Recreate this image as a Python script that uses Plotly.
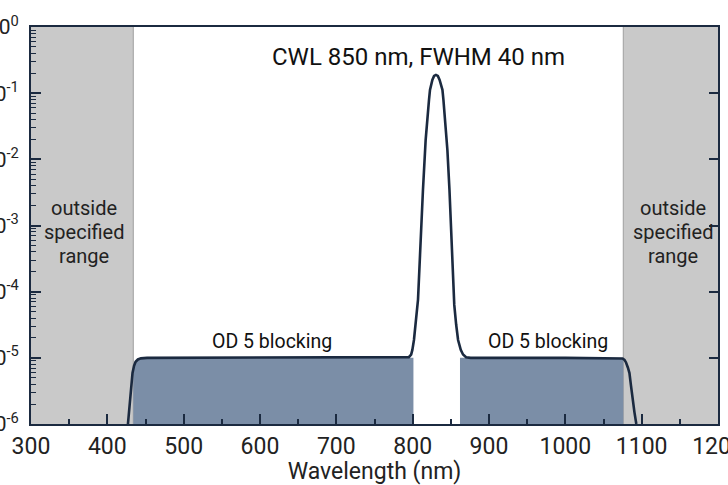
import numpy as np
import plotly.graph_objects as go

# ---- data ----
wavelength_nm = [427, 429, 431, 433, 435, 437, 440, 444, 452, 600, 790, 795, 798,
                 799.6, 801.7, 804, 807, 813.5, 816.2, 817, 821.4, 822.7, 825.8,
                 828, 830.5, 833, 835.3, 839, 840.3, 844.6, 845.5, 848.2, 854.5,
                 857, 859.5, 863, 866, 870, 876, 1000, 1072, 1075, 1077.5, 1079.5,
                 1082, 1084, 1086, 1088, 1090.5, 1093]
log10_transmission = [-6.0, -5.75, -5.45, -5.23, -5.12, -5.06, -5.025, -5.008, -5.0,
                      -5.0, -5.0, -4.99, -4.95, -4.88, -4.73, -4.43, -4.12, -2.46,
                      -1.86, -1.71, -1.10, -0.95, -0.80, -0.74, -0.725, -0.74, -0.80,
                      -0.95, -1.10, -1.71, -1.86, -2.46, -4.2, -4.5, -4.73, -4.88,
                      -4.95, -4.99, -5.0, -5.0, -5.0, -5.01, -5.03, -5.07, -5.15,
                      -5.23, -5.42, -5.63, -5.82, -6.0]

specified_range = [434, 1076]          # nm, outside of it is shaded grey
blocking_bands = [[434, 801], [862, 1076]]
od_level = 1e-5                        # OD 5 blocking level

x_ticks = [300, 400, 500, 600, 700, 800, 900, 1000, 1100, 1200]
x_tick_labels = ["300", "400", "500", "600", "700", "800", "900", "1000", "1100", "1200"]
y_exponents = [0, -1, -2, -3, -4, -5, -6]
y_tick_labels = ["10<sup>%d</sup>" % e for e in y_exponents]

title_text = "CWL 850 nm, FWHM 40 nm"
outside_lines = ["outside", "specified", "range"]
blocking_text = "OD 5 blocking"

# ---- derived ----
wl = np.array(wavelength_nm, dtype=float)
lt = np.array(log10_transmission, dtype=float)
T = 10 ** lt

LINE = "#1b2a40"
FILL = "#7b8ea7"
GREY = "#c9c9c9"
FONT = "Roboto"

fig = go.Figure()

# blocking-band fills (under the curve, capped at OD level)
for lo, hi in blocking_bands:
    inner = (wl > lo) & (wl < hi)
    xs = np.concatenate([[lo], wl[inner], [hi]])
    ys = 10 ** np.interp(xs, wl, lt)
    ys = np.minimum(ys, od_level)
    px = np.concatenate([[lo], xs, [hi]])
    py = np.concatenate([[1e-6], ys, [1e-6]])
    fig.add_trace(go.Scatter(x=px, y=py, mode="lines", fill="toself",
                             fillcolor=FILL, line=dict(width=0),
                             hoverinfo="skip", showlegend=False))

fig.add_trace(go.Scatter(x=wl, y=T, mode="lines",
                         line=dict(color=LINE, width=2.6),
                         showlegend=False))

# invisible trace for right-hand tick axis
fig.add_trace(go.Scatter(x=[300], y=[1e-3], yaxis="y2", mode="markers",
                         marker=dict(opacity=0), showlegend=False, hoverinfo="skip"))

# grey "outside specified range" zones
for x0, x1 in [(300, specified_range[0]), (specified_range[1], 1200)]:
    fig.add_shape(type="rect", xref="x", yref="paper", x0=x0, x1=x1, y0=0, y1=1,
                  fillcolor=GREY, line=dict(width=0), layer="below")
for xe in specified_range:
    fig.add_shape(type="line", xref="x", yref="paper", x0=xe, x1=xe, y0=0, y1=1,
                  line=dict(color="#a9a9a9", width=1.2), layer="below")

# annotations
fig.add_annotation(x=807, y=0.9244, xref="x", yref="paper", text=title_text,
                   xanchor="center", yanchor="middle",
                   showarrow=False, font=dict(family=FONT, size=24, color="#111"))
for xc in [369.5, 1140.5]:
    for i, line in enumerate(outside_lines):
        fig.add_annotation(x=xc, y=0.4836, xref="x", yref="paper", text=line,
                           xanchor="center", yanchor="middle", yshift=24 * (1 - i),
                           showarrow=False, font=dict(family=FONT, size=20, color="#222"))
for xc in [616, 977]:
    fig.add_annotation(x=xc, y=0.209, xref="x", yref="paper", text=blocking_text,
                       xanchor="center", yanchor="middle",
                       showarrow=False, font=dict(family=FONT, size=19.5, color="#111"))

minor_y = [k * 10.0 ** e for e in range(-6, 0) for k in range(2, 10)]

fig.update_layout(
    width=728, height=485,
    margin=dict(l=31, r=10, t=27, b=61),
    plot_bgcolor="white", paper_bgcolor="white",
    font=dict(family=FONT, size=22, color="#222"),
    xaxis=dict(range=[300, 1200], tickvals=x_ticks, ticktext=x_tick_labels,
               ticks="inside", ticklen=10, tickwidth=1.5, tickcolor=LINE,
               ticklabeloverflow="allow",
               minor=dict(dtick=50, tick0=300, ticks="inside", ticklen=5,
                          tickwidth=1.5, tickcolor=LINE, showgrid=False),
               showline=True, linecolor=LINE, linewidth=2, mirror=True,
               showgrid=False, zeroline=False, automargin=False,
               tickfont=dict(size=23), title=dict(text="Wavelength (nm)",
                                                   font=dict(size=23), standoff=2)),
    yaxis=dict(type="log", range=[-6, 0],
               tickvals=[10.0 ** e for e in y_exponents], ticktext=y_tick_labels,
               ticks="inside", ticklen=10, tickwidth=1.5, tickcolor=LINE,
               ticklabelstandoff=6, ticklabeloverflow="allow",
               minor=dict(tickvals=minor_y, ticks="inside", ticklen=5,
                          tickwidth=1.2, tickcolor=LINE, showgrid=False),
               showline=True, linecolor=LINE, linewidth=2, mirror=True,
               showgrid=False, zeroline=False, automargin=False,
               tickfont=dict(size=21)),
    yaxis2=dict(type="log", range=[-6, 0], overlaying="y", side="right",
                tickvals=[10.0 ** e for e in y_exponents], showticklabels=False,
                ticks="inside", ticklen=9, tickwidth=1.5, tickcolor=LINE,
                showline=False, showgrid=False, zeroline=False, automargin=False),
)

fig.write_html("out.html", config={"displayModeBar": False},
               post_script="document.body.style.margin='0px';")
